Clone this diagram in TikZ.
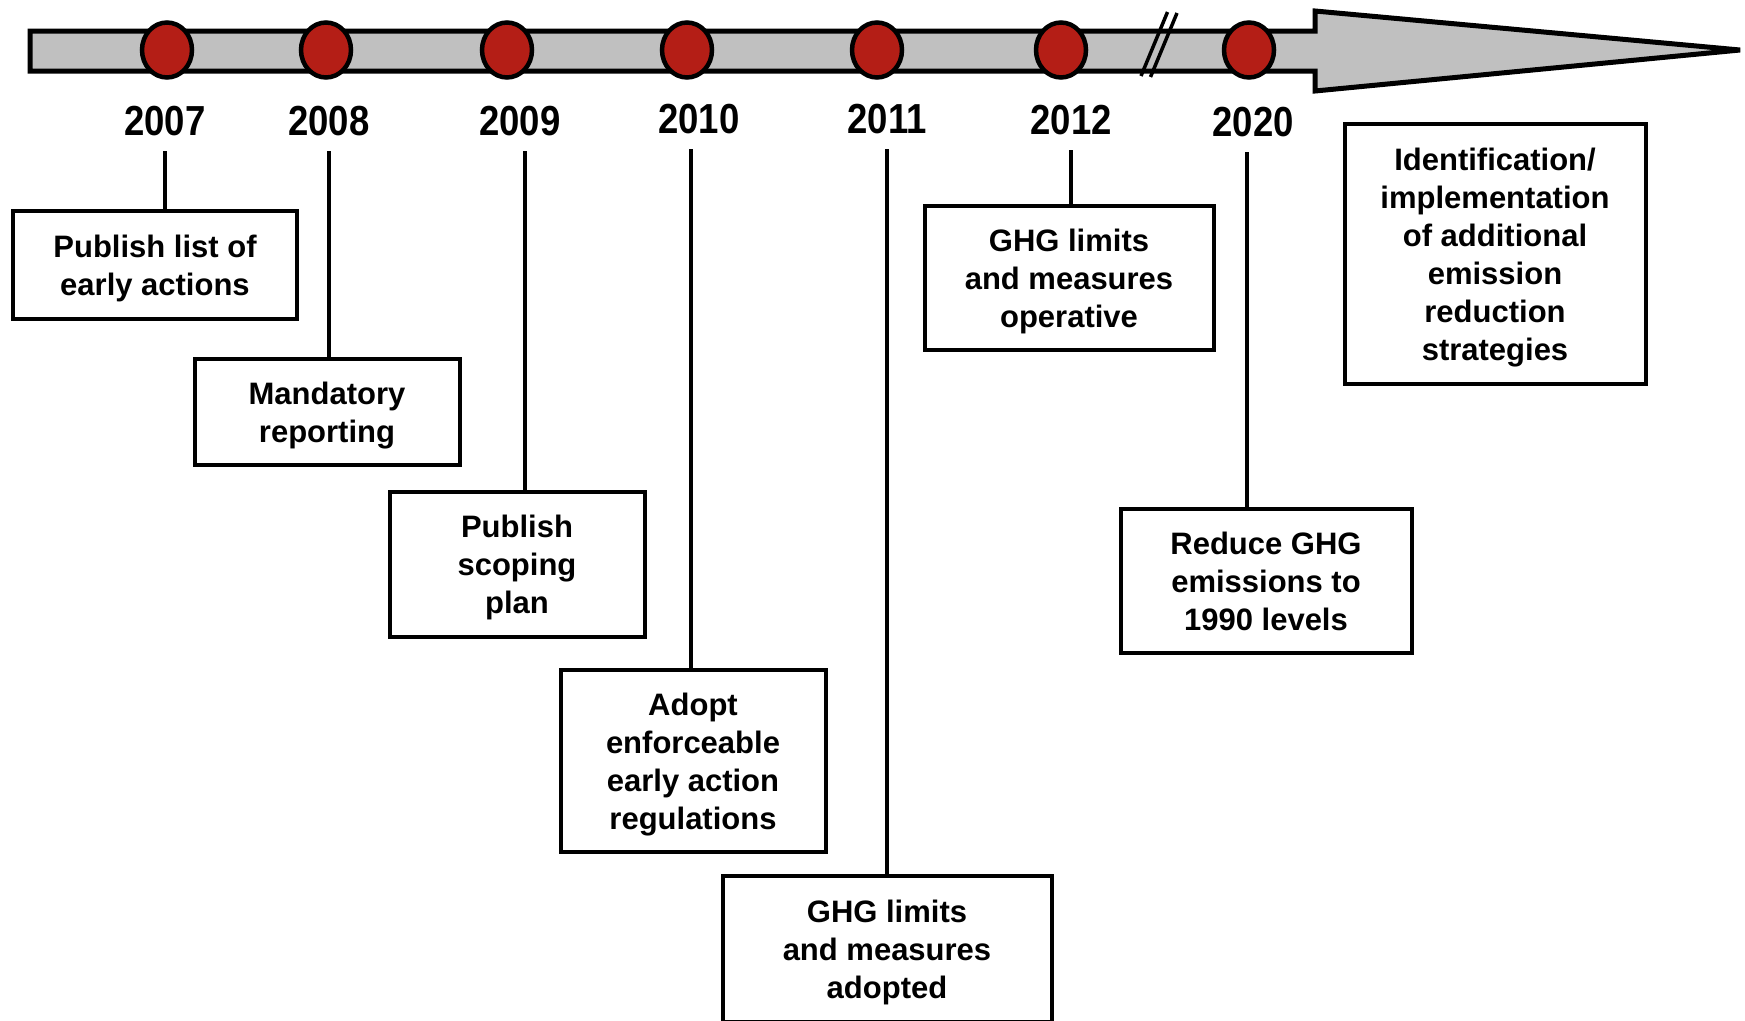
\documentclass[tikz,border=0pt]{standalone}
\usepackage{fontspec}
\setmainfont{Liberation Sans}
\newfontfamily\yearfont{Liberation Sans}[FakeStretch=0.87]
\usetikzlibrary{shapes.geometric,positioning}
\definecolor{barfill}{HTML}{C0C0C0}
\definecolor{dotred}{HTML}{B41E16}
\newcommand\firstline{\rule{0pt}{30pt}}
\tikzset{bar/.style={draw, fill=barfill, line width=5pt}, dot/.style={ellipse, draw, fill=dotred, line width=4.5pt, minimum width=50pt, minimum height=55pt, inner sep=0pt}, year/.style={font=\yearfont\bfseries\fontsize{42}{44}\selectfont, text height=30pt, text depth=0pt, inner xsep=0pt, inner ysep=16pt}, event/.style={draw, line width=4pt, align=center, font=\bfseries\fontsize{31}{38}\selectfont, inner sep=0pt, execute at end node={\rule[-7pt]{0pt}{0pt}}}, stem/.style={line width=4.5pt}, brk/.style={line width=3.5pt}}

\begin{document}
\begin{tikzpicture}[x=1pt,y=-1pt]
    \useasboundingbox (0,0) rectangle (1745,1020);
    % timeline arrow
    \draw[bar] (30,31) -- (1315,31) -- (1315,11) -- (1740,50) -- (1315,91) -- (1315,71) -- (30,71) -- cycle;
    \draw[brk] (1167.5,12) -- (1141,76);
    \draw[brk] (1177,13) -- (1150.5,77);
    \node[dot] (d2007) at (167,50) {};
    \node[dot] (d2008) at (326,50) {};
    \node[dot] (d2009) at (507,50) {};
    \node[dot] (d2010) at (687,50) {};
    \node[dot] (d2011) at (877,50) {};
    \node[dot] (d2012) at (1061,50) {};
    \node[dot] (d2020) at (1249,50) {};
    % years
    \node[year] (y2007) at (165,120) {2007};
    \node[year] (y2008) at (329,120) {2008};
    \node[year] (y2009) at (520,120) {2009};
    \node[year] (y2010) at (699,118) {2010};
    \node[year] (y2011) at (887,118) {2011};
    \node[year] (y2012) at (1071,119) {2012};
    \node[year] (y2020) at (1253,121) {2020};
    % milestones
    \node[event, minimum width=284pt, minimum height=108pt] (b2007) at (155,265) {\firstline Publish list of\\early actions};
    \node[event, minimum width=265pt, minimum height=106pt] (b2008) at (327,412) {\firstline Mandatory\\reporting};
    \node[event, minimum width=255pt, minimum height=145pt] (b2009) at (517,564) {\firstline Publish\\scoping\\plan};
    \node[event, minimum width=265pt, minimum height=182pt] (b2010) at (693,761) {\firstline Adopt\\enforceable\\early action\\regulations};
    \node[event, minimum width=329pt, minimum height=146pt] (b2011) at (887,949) {\firstline GHG limits\\and measures\\adopted};
    \node[event, minimum width=289pt, minimum height=144pt] (b2012) at (1069,278) {\firstline GHG limits\\and measures\\operative};
    \node[event, minimum width=291pt, minimum height=144pt] (b2020) at (1266,581) {\firstline Reduce GHG\\emissions to\\1990 levels};
    \node[event, minimum width=301pt, minimum height=260pt] (bnext) at (1495,254) {\firstline Identification/\\implementation\\of additional\\emission\\reduction\\strategies};
    \draw[stem] (y2007.south) -- (y2007.south |- b2007.north);
    \draw[stem] (y2008.south) -- (y2008.south |- b2008.north);
    \draw[stem] ([xshift=5pt]y2009.south) -- ([xshift=5pt]y2009.south |- b2009.north);
    \draw[stem] ([xshift=-8pt]y2010.south) -- ([xshift=-8pt]y2010.south |- b2010.north);
    \draw[stem] (y2011.south) -- (y2011.south |- b2011.north);
    \draw[stem] (y2012.south) -- (y2012.south |- b2012.north);
    \draw[stem] ([xshift=-6pt]y2020.south) -- ([xshift=-6pt]y2020.south |- b2020.north);
\end{tikzpicture}
\end{document}
